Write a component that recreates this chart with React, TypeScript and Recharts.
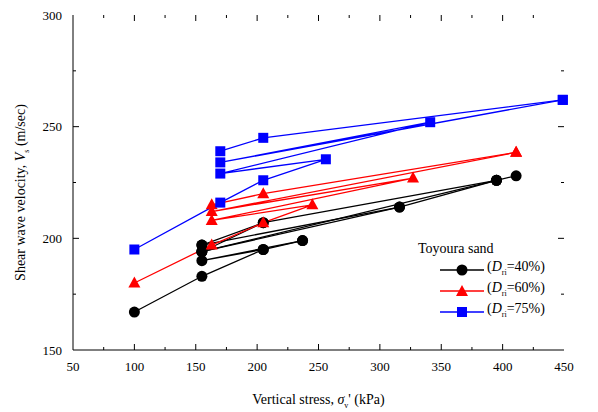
import { LineChart, Line, XAxis, YAxis, Legend } from "recharts";

// loading / unloading paths (x = vertical stress kPa, y = Vs m/sec)
const black1 = [{ x: 100, y: 167 }, { x: 155, y: 183 }, { x: 205, y: 195 }, { x: 237, y: 199 }];
const black2 = [{ x: 237, y: 199 }, { x: 155, y: 190 }, { x: 205, y: 195 }];
const black3 = [{ x: 155, y: 197 }, { x: 205, y: 207 }, { x: 395, y: 226 }, { x: 411, y: 228 }];
const black4 = [{ x: 155, y: 194 }, { x: 205, y: 207 }];
const black5 = [{ x: 155, y: 197 }, { x: 316, y: 214 }, { x: 395, y: 226 }];
const black6 = [{ x: 155, y: 194 }, { x: 316, y: 214 }];
const black7 = [{ x: 155, y: 194 }, { x: 395, y: 226 }];

const red1 = [
  { x: 100, y: 180 }, { x: 163, y: 197 }, { x: 205, y: 207 }, { x: 245, y: 215 },
  { x: 163, y: 208 }, { x: 327, y: 227 }, { x: 163, y: 212 }, { x: 411, y: 238.5 },
];
const red2 = [{ x: 163, y: 215 }, { x: 205, y: 220 }, { x: 411, y: 238.5 }];

const blue1 = [
  { x: 100, y: 195 }, { x: 170, y: 216 }, { x: 205, y: 226 }, { x: 256, y: 235.4 },
  { x: 170, y: 229 }, { x: 341, y: 252 }, { x: 170, y: 234 }, { x: 449, y: 262 },
];
const blue2 = [{ x: 170, y: 239 }, { x: 205, y: 245 }, { x: 449, y: 262 }];

const xTicks = [50, 75, 100, 125, 150, 175, 200, 225, 250, 275, 300, 325, 350, 375, 400, 425, 450];
const yTicks = [150, 175, 200, 225, 250, 275, 300];

const seriesNames = ["40%", "60%", "75%"];

const FONT = "'Liberation Serif', Tinos, 'Times New Roman', serif";
const W = 590;
const H = 404;
const LEFT = 65;
const RIGHT = 556;
const TOP = 7;
const BOTTOM = 342;

const XTick = (props: any) => {
  const { x, payload } = props;
  const v = payload.value;
  const major = v % 50 === 0;
  const len = major ? 6 : 3;
  const edge = v === 50 || v === 450;
  return (
    <g>
      {!edge && <line x1={x} x2={x} y1={BOTTOM} y2={BOTTOM - len} stroke="#000" />}
      {!edge && <line x1={x} x2={x} y1={TOP} y2={TOP + len} stroke="#000" />}
      {major && (
        <text x={x} y={BOTTOM + 21} textAnchor="middle" fontSize={13} fontFamily={FONT} fill="#000">
          {v}
        </text>
      )}
    </g>
  );
};

const YTick = (props: any) => {
  const { y, payload } = props;
  const v = payload.value;
  const major = v % 50 === 0;
  const len = major ? 6 : 3;
  const edge = v === 150 || v === 300;
  return (
    <g>
      {!edge && <line x1={LEFT} x2={LEFT + len} y1={y} y2={y} stroke="#000" />}
      {!edge && <line x1={RIGHT} x2={RIGHT - len} y1={y} y2={y} stroke="#000" />}
      {major && (
        <text x={LEFT - 11} y={y + 4.5} textAnchor="end" fontSize={13} fontFamily={FONT} fill="#000">
          {v}
        </text>
      )}
    </g>
  );
};

const Circle = (props: any) => <circle key={props.key} cx={props.cx} cy={props.cy} r={5.5} fill="#000" />;
const Tri = (props: any) => {
  const { cx, cy } = props;
  return <path key={props.key} d={`M${cx},${cy - 6.5} L${cx + 6},${cy + 4.5} L${cx - 6},${cy + 4.5} Z`} fill="#ff0000" />;
};
const Sq = (props: any) => (
  <rect key={props.key} x={props.cx - 5} y={props.cy - 5} width={10} height={10} fill="#0000ff" />
);

const legendRows = [
  { color: "#000", mark: <circle cx={22} cy={7} r={5.5} fill="#000" /> },
  { color: "#ff0000", mark: <path d="M22,1 L28,12 L16,12 Z" fill="#ff0000" /> },
  { color: "#0000ff", mark: <rect x={17} y={2} width={10} height={10} fill="#0000ff" /> },
];

const LegendBox = () => (
  <div style={{ fontFamily: FONT, fontSize: 14, color: "#000", lineHeight: "21px" }}>
    <div>Toyoura sand</div>
    {legendRows.map((r, i) => (
      <div key={i} style={{ display: "flex", alignItems: "center", height: 21, paddingLeft: 22 }}>
        <svg width={44} height={14}>
          <line x1={0} x2={44} y1={7} y2={7} stroke={r.color} strokeWidth={1.3} />
          {r.mark}
        </svg>
        <span style={{ marginLeft: 3 }}>
          (<i>D</i>
          <sub style={{ fontSize: 8 }}>ri</sub>={seriesNames[i]})
        </span>
      </div>
    ))}
  </div>
);

const line = (id: string, data: any[], color: string, dot: any) => (
  <Line
    key={id}
    data={data}
    dataKey="y"
    type="linear"
    stroke={color}
    strokeWidth={1.3}
    dot={dot}
    activeDot={false}
    legendType="none"
    isAnimationActive={false}
  />
);

export default function App() {
  return (
    <LineChart width={W} height={H} margin={{ top: TOP, right: W - RIGHT, bottom: 0, left: 0 }}>
      <XAxis
        type="number"
        dataKey="x"
        domain={[50, 450]}
        ticks={xTicks}
        interval={0}
        tick={<XTick />}
        tickLine={false}
        axisLine={{ stroke: "#000" }}
        height={H - BOTTOM}
      />
      <XAxis xAxisId="top" orientation="top" type="number" domain={[50, 450]} tick={false} tickLine={false} height={0} axisLine={{ stroke: "#000" }} />
      <YAxis
        type="number"
        domain={[150, 300]}
        ticks={yTicks}
        interval={0}
        tick={<YTick />}
        tickLine={false}
        axisLine={{ stroke: "#000" }}
        width={LEFT}
      />
      <YAxis yAxisId="right" orientation="right" type="number" domain={[150, 300]} tick={false} tickLine={false} width={0} axisLine={{ stroke: "#000" }} />
      {line("b1", black1, "#000", Circle)}
      {line("b2", black2, "#000", Circle)}
      {line("b3", black3, "#000", Circle)}
      {line("b4", black4, "#000", Circle)}
      {line("b5", black5, "#000", Circle)}
      {line("b6", black6, "#000", Circle)}
      {line("b7", black7, "#000", Circle)}
      {line("r1", red1, "#ff0000", Tri)}
      {line("r2", red2, "#ff0000", Tri)}
      {line("u1", blue1, "#0000ff", Sq)}
      {line("u2", blue2, "#0000ff", Sq)}
      <Legend
        content={<LegendBox />}
        layout="horizontal"
        verticalAlign="middle"
        align="center"
        wrapperStyle={{ left: 410, top: 230, width: 160 }}
      />
      <text x={(LEFT + RIGHT) / 2} y={H - 8} textAnchor="middle" fontSize={14} fontFamily={FONT} fill="#000">
        Vertical stress,{" "}
        <tspan fontStyle="italic">σ</tspan>
        <tspan fontSize={8} dy={4}>v</tspan>
        <tspan dy={-4}>' (kPa)</tspan>
      </text>
      <text
        x={0}
        y={0}
        transform={`translate(17, ${(TOP + BOTTOM) / 2 + 10}) rotate(-90)`}
        textAnchor="middle"
        fontSize={14}
        fontFamily={FONT}
        fill="#000"
      >
        Shear wave velocity,{"  "}
        <tspan fontStyle="italic">V</tspan>
        <tspan fontSize={8} dy={4}>s</tspan>
        <tspan dy={-4}> (m/sec)</tspan>
      </text>
    </LineChart>
  );
}
